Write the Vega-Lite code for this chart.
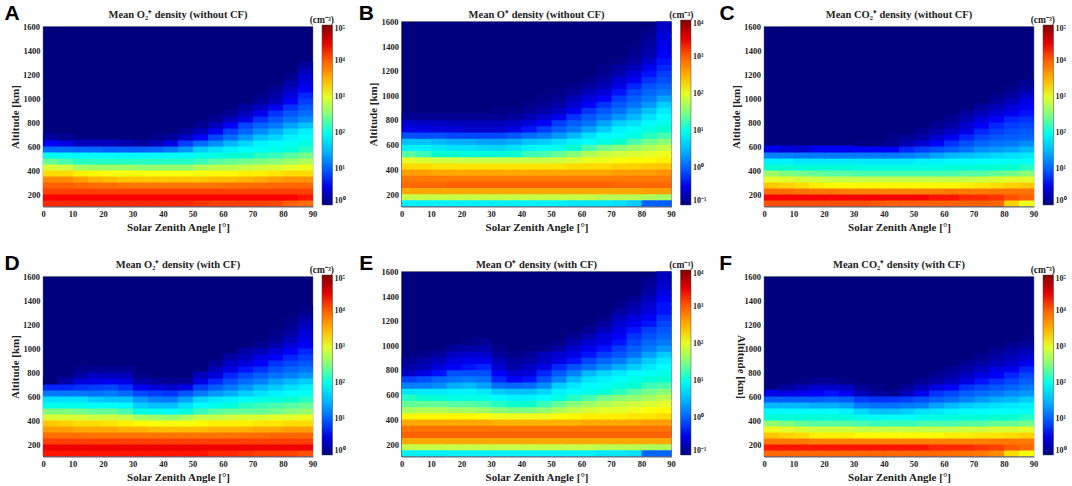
{"$schema":"https://vega.github.io/schema/vega-lite/v6.json","background":"white","padding":{"left":4,"top":2.5,"right":0,"bottom":0},
"config":{"font":"Liberation Serif","view":{"stroke":null},"range":{"heatmap":["#00007f","#0000ff","#007fff","#00ffff","#7fff7f","#ffff00","#ff7f00","#ff0000","#7f0000"]},
"axis":{"grid":false,"labelFont":"Liberation Serif","titleFont":"Liberation Serif","labelFontWeight":"bold","titleFontWeight":"bold","labelFontSize":8.5,"titleFontSize":11,"labelColor":"#222","titleColor":"#222","tickSize":-2,"tickColor":"#111","domainColor":"#666","labelFlush":false,"labelBound":false},
"axisX":{"labelPadding":5,"titlePadding":3},"axisY":{"labelPadding":5,"titlePadding":3},
"title":{"font":"Liberation Serif","fontWeight":"bold","fontSize":10.5,"color":"#222","anchor":"middle"},
"legend":{"labelFont":"Liberation Serif","titleFont":"Liberation Serif","labelFontWeight":"bold","titleFontWeight":"bold","labelFontSize":8,"titleFontSize":9.5,"labelColor":"#222","titleColor":"#222","gradientThickness":10.5,"gradientStrokeColor":"#444","gradientStrokeWidth":0.5,"labelOffset":2,"titleAnchor":"middle","titleAlign":"right","titlePadding":1,"labelOverlap":false}},
"datasets":{
"xl":[{"x":10,"y":100,"l":"10"},{"x":30,"y":100,"l":"30"},{"x":50,"y":100,"l":"50"},{"x":70,"y":100,"l":"70"},{"x":90,"y":100,"l":"90"}],
"yl":[{"x":0,"y":400,"l":"400"},{"x":0,"y":800,"l":"800"},{"x":0,"y":1200,"l":"1200"},{"x":0,"y":1600,"l":"1600"}],
"A":[
{"y":100,"x":[0,5,10,15,20,25,30,35,40,45,50,55,60,65,70,75,80,85],"v":[4.3,4.3,4.3,4.3,4.3,4.3,4.3,4.3,4.3,4.3,4.25,4.2,4.2,4.2,4.2,4.15,4,3.9]},
{"y":150,"x":[0,5,10,15,20,25,30,35,40,45,50,55,60,65,70,75,80,85],"v":[4.4,4.4,4.4,4.4,4.4,4.4,4.4,4.4,4.4,4.4,4.4,4.4,4.4,4.4,4.4,4.4,4.4,4.35]},
{"y":200,"x":[0,5,10,15,20,25,30,35,40,45,50,55,60,65,70,75,80,85],"v":[4.2,4.2,4.2,4.2,4.2,4.2,4.2,4.2,4.2,4.2,4.2,4.2,4.2,4.2,4.2,4.2,4.2,4.2]},
{"y":250,"x":[0,5,10,15,20,25,30,35,40,45,50,55,60,65,70,75,80,85],"v":[4,4,3.95,3.9,3.9,3.85,3.85,3.85,3.85,3.85,3.85,3.85,3.9,3.9,3.9,3.95,3.95,3.95]},
{"y":300,"x":[0,5,10,15,20,25,30,35,40,45,50,55,60,65,70,75,80,85],"v":[3.7,3.7,3.6,3.5,3.45,3.4,3.4,3.4,3.4,3.4,3.4,3.45,3.45,3.5,3.55,3.6,3.65,3.65]},
{"y":350,"x":[0,5,10,15,20,25,30,35,40,45,50,55,60,65,70,75,80,85],"v":[3.3,3.3,3.2,3.15,3.1,3.1,3.1,3.1,3.1,3.1,3.1,3.15,3.15,3.2,3.2,3.25,3.3,3.3]},
{"y":400,"x":[0,5,10,15,20,25,30,35,40,45,50,55,60,65,70,75,80,85],"v":[2.95,2.9,2.7,2.65,2.65,2.65,2.6,2.6,2.6,2.6,2.75,2.8,2.8,2.85,2.9,2.95,3,3.05]},
{"y":450,"x":[0,5,10,15,20,25,30,35,40,45,50,55,60,65,70,75,80,85],"v":[2.4,2.3,2.2,2.2,2.2,2.2,2.2,2.2,2.2,2.2,2.25,2.35,2.4,2.45,2.5,2.55,2.65,2.75]},
{"y":500,"x":[0,5,10,15,20,25,30,35,40,45,50,55,60,65,70,75,80,85],"v":[1.95,1.9,1.85,1.85,1.85,1.85,1.85,1.85,1.85,1.9,2,2.05,2.1,2.15,2.2,2.25,2.35,2.45]},
{"y":550,"x":[0,5,10,15,20,25,30,35,40,45,50,55,60,65,70,75,80,85],"v":[1.1,1.1,1.05,1.05,1,1,1,1.05,1.2,1.35,1.6,1.7,1.8,1.9,1.95,2,2.1,2.2]},
{"y":600,"x":[0,5,10,15,20,25,30,35,40,45,50,55,60,65,70,75,80,85],"v":[0.6,0.5,0.3,0.3,0.3,0.25,0.15,0.3,0.5,0.8,1.1,1.3,1.5,1.65,1.8,1.85,1.95,2.05]},
{"y":650,"x":[0,5,35,40,45,50,55,60,65,70,75,80,85],"v":[0.15,0.1,0.05,0.15,0.35,0.6,0.85,1.1,1.35,1.55,1.65,1.8,1.9]},
{"y":700,"x":[45,50,55,60,65,70,75,80,85],"v":[0.1,0.3,0.55,0.8,1.05,1.3,1.45,1.65,1.8]},
{"y":750,"x":[50,55,60,65,70,75,80,85],"v":[0.1,0.3,0.6,0.85,1.05,1.2,1.4,1.55]},
{"y":800,"x":[55,60,65,70,75,80,85],"v":[0.1,0.3,0.5,0.75,0.95,1.15,1.3]},
{"y":850,"x":[60,65,70,75,80,85],"v":[0.1,0.3,0.55,0.75,0.95,1.1]},
{"y":900,"x":[65,70,75,80,85],"v":[0.15,0.35,0.55,0.75,0.95]},
{"y":950,"x":[70,75,80,85],"v":[0.15,0.3,0.6,0.8]},
{"y":1000,"x":[70,75,80,85],"v":[0.05,0.2,0.45,0.7]},
{"y":1050,"x":[75,80,85],"v":[0.1,0.35,0.6]},
{"y":1100,"x":[80,85],"v":[0.2,0.5]},
{"y":1150,"x":[80,85],"v":[0.1,0.4]},
{"y":1200,"x":[85],"v":[0.3]},
{"y":1250,"x":[85],"v":[0.15]}],
"B":[
{"y":100,"x":[0,5,10,15,20,25,30,35,40,45,50,55,60,65,70,75,80,85],"v":[0.8,0.8,0.8,0.8,0.8,0.8,0.8,0.8,0.8,0.8,0.8,0.75,0.75,0.75,0.7,0.6,0,0]},
{"y":150,"x":[0,5,10,15,20,25,30,35,40,45,50,55,60,65,70,75,80,85],"v":[1.85,1.85,1.85,1.85,1.85,1.85,1.85,1.85,1.85,1.85,1.85,1.85,1.85,1.8,1.8,1.8,1.75,1.7]},
{"y":200,"x":[0,5,10,15,20,25,30,35,40,45,50,55,60,65,70,75,80,85],"v":[2.55,2.55,2.55,2.55,2.55,2.55,2.55,2.55,2.55,2.55,2.55,2.55,2.55,2.55,2.55,2.55,2.6,2.6]},
{"y":250,"x":[0,5,10,15,20,25,30,35,40,45,50,55,60,65,70,75,80,85],"v":[2.95,2.95,2.95,3,3,3,3,3,3,3,3,3,3,3,2.95,2.95,2.95,2.95]},
{"y":300,"x":[0,5,10,15,20,25,30,35,40,45,50,55,60,65,70,75,80,85],"v":[2.8,2.8,2.8,2.8,2.8,2.8,2.8,2.8,2.8,2.8,2.8,2.8,2.8,2.8,2.8,2.8,2.8,2.8]},
{"y":350,"x":[0,5,10,15,20,25,30,35,40,45,50,55,60,65,70,75,80,85],"v":[2.6,2.6,2.55,2.55,2.55,2.55,2.55,2.55,2.55,2.55,2.55,2.55,2.55,2.55,2.6,2.6,2.6,2.65]},
{"y":400,"x":[0,5,10,15,20,25,30,35,40,45,50,55,60,65,70,75,80,85],"v":[2.3,2.3,2.25,2.25,2.25,2.25,2.25,2.25,2.25,2.25,2.25,2.3,2.3,2.3,2.35,2.35,2.4,2.4]},
{"y":450,"x":[0,5,10,15,20,25,30,35,40,45,50,55,60,65,70,75,80,85],"v":[2,1.95,1.9,1.9,1.85,1.85,1.85,1.85,1.85,1.85,1.9,1.95,2.05,2.05,2.1,2.15,2.15,2.2]},
{"y":500,"x":[0,5,10,15,20,25,30,35,40,45,50,55,60,65,70,75,80,85],"v":[1.35,1.25,1.15,1.15,1.1,1.1,1.1,1.15,1.25,1.3,1.4,1.55,1.75,1.85,1.9,1.95,2,2.05]},
{"y":550,"x":[0,5,10,15,20,25,30,35,40,45,50,55,60,65,70,75,80,85],"v":[0.8,0.8,0.75,0.7,0.7,0.65,0.65,0.7,0.8,0.9,1,1.15,1.3,1.45,1.55,1.65,1.75,1.85]},
{"y":600,"x":[0,5,10,15,20,25,30,35,40,45,50,55,60,65,70,75,80,85],"v":[0.55,0.55,0.5,0.45,0.45,0.4,0.4,0.45,0.55,0.6,0.7,0.8,0.9,1.05,1.15,1.3,1.45,1.55]},
{"y":650,"x":[0,5,10,15,20,25,30,35,40,45,50,55,60,65,70,75,80,85],"v":[-0.1,-0.1,-0.1,-0.15,-0.15,-0.15,-0.15,-0.05,0.1,0.2,0.35,0.5,0.7,0.85,0.95,1.05,1.2,1.3]},
{"y":700,"x":[0,5,10,15,20,25,30,35,40,45,50,55,60,65,70,75,80,85],"v":[-0.5,-0.5,-0.55,-0.55,-0.6,-0.6,-0.6,-0.5,-0.35,-0.2,0,0.2,0.4,0.6,0.8,0.9,1.05,1.15]},
{"y":750,"x":[0,5,10,15,20,25,30,35,40,45,50,55,60,65,70,75,80,85],"v":[-0.6,-0.65,-0.65,-0.7,-0.7,-0.7,-0.7,-0.65,-0.55,-0.4,-0.2,0,0.15,0.4,0.6,0.7,0.85,1]},
{"y":800,"x":[0,5,10,15,20,25,30,35,40,45,50,55,60,65,70,75,80,85],"v":[-0.9,-0.9,-0.9,-0.9,-0.9,-0.9,-0.9,-0.85,-0.75,-0.6,-0.45,-0.25,-0.05,0.15,0.35,0.5,0.7,0.9]},
{"y":850,"x":[30,35,40,45,50,55,60,65,70,75,80,85],"v":[-0.95,-0.95,-0.9,-0.8,-0.65,-0.45,-0.25,-0.05,0.15,0.35,0.55,0.75]},
{"y":900,"x":[40,45,50,55,60,65,70,75,80,85],"v":[-0.95,-0.9,-0.8,-0.6,-0.4,-0.25,-0.05,0.15,0.35,0.6]},
{"y":950,"x":[45,50,55,60,65,70,75,80,85],"v":[-0.95,-0.9,-0.7,-0.55,-0.4,-0.2,0,0.2,0.4]},
{"y":1000,"x":[50,55,60,65,70,75,80,85],"v":[-0.95,-0.85,-0.7,-0.55,-0.35,-0.15,0.05,0.2]},
{"y":1050,"x":[55,60,65,70,75,80,85],"v":[-0.95,-0.85,-0.7,-0.5,-0.3,-0.1,0.05]},
{"y":1100,"x":[60,65,70,75,80,85],"v":[-0.95,-0.8,-0.6,-0.45,-0.25,-0.1]},
{"y":1150,"x":[65,70,75,80,85],"v":[-0.9,-0.75,-0.55,-0.35,-0.2]},
{"y":1200,"x":[65,70,75,80,85],"v":[-0.95,-0.85,-0.7,-0.45,-0.3]},
{"y":1250,"x":[70,75,80,85],"v":[-0.95,-0.85,-0.6,-0.35]},
{"y":1300,"x":[75,80,85],"v":[-0.9,-0.75,-0.4]},
{"y":1350,"x":[75,80,85],"v":[-0.95,-0.8,-0.45]},
{"y":1400,"x":[80,85],"v":[-0.85,-0.5]},
{"y":1450,"x":[80,85],"v":[-0.9,-0.55]},
{"y":1500,"x":[80,85],"v":[-0.95,-0.6]},
{"y":1550,"x":[85],"v":[-0.65]}],
"C":[
{"y":100,"x":[0,5,10,15,20,25,30,35,40,45,50,55,60,65,70,75,80,85],"v":[4.1,4.1,4.1,4.1,4.1,4.1,4.1,4.05,4,4,4,4,4,4,4,3.95,3.35,3.05]},
{"y":150,"x":[0,5,10,15,20,25,30,35,40,45,50,55,60,65,70,75,80,85],"v":[4.4,4.4,4.4,4.4,4.4,4.4,4.4,4.4,4.4,4.4,4.4,4.35,4.35,4.3,4.3,4.25,4.1,4]},
{"y":200,"x":[0,5,10,15,20,25,30,35,40,45,50,55,60,65,70,75,80,85],"v":[3.9,3.9,3.85,3.8,3.8,3.75,3.75,3.75,3.75,3.75,3.75,3.75,3.8,3.8,3.8,3.85,3.85,3.85]},
{"y":250,"x":[0,5,10,15,20,25,30,35,40,45,50,55,60,65,70,75,80,85],"v":[3.4,3.35,3.3,3.2,3.15,3.15,3.15,3.15,3.15,3.15,3.15,3.15,3.15,3.2,3.25,3.3,3.35,3.4]},
{"y":300,"x":[0,5,10,15,20,25,30,35,40,45,50,55,60,65,70,75,80,85],"v":[3,3,2.95,2.9,2.85,2.85,2.85,2.85,2.85,2.85,2.85,2.85,2.85,2.85,2.9,2.95,3,3]},
{"y":350,"x":[0,5,10,15,20,25,30,35,40,45,50,55,60,65,70,75,80,85],"v":[2.65,2.5,2.45,2.4,2.35,2.35,2.3,2.3,2.3,2.3,2.3,2.3,2.3,2.35,2.35,2.4,2.45,2.55]},
{"y":400,"x":[0,5,10,15,20,25,30,35,40,45,50,55,60,65,70,75,80,85],"v":[2.15,2.15,2.1,2.1,2.1,2.1,2.05,2.05,2.05,2.05,2.05,2.05,2.1,2.1,2.1,2.15,2.15,2.2]},
{"y":450,"x":[0,5,10,15,20,25,30,35,40,45,50,55,60,65,70,75,80,85],"v":[1.8,1.8,1.75,1.75,1.75,1.75,1.75,1.75,1.75,1.75,1.8,1.8,1.85,1.85,1.9,1.9,1.95,1.95]},
{"y":500,"x":[0,5,10,15,20,25,30,35,40,45,50,55,60,65,70,75,80,85],"v":[1.25,1.25,1.2,1.2,1.2,1.2,1.2,1.2,1.2,1.25,1.3,1.4,1.5,1.55,1.6,1.65,1.7,1.75]},
{"y":550,"x":[0,5,10,15,20,25,30,35,40,45,50,55,60,65,70,75,80,85],"v":[0.5,0.45,0.4,0.55,0.55,0.55,0.6,0.6,0.6,0.7,0.8,0.9,1,1.15,1.3,1.35,1.4,1.5]},
{"y":600,"x":[30,35,40,45,50,55,60,65,70,75,80,85],"v":[0.05,0.05,0.1,0.25,0.4,0.6,0.75,0.9,1.05,1.15,1.2,1.3]},
{"y":650,"x":[40,45,50,55,60,65,70,75,80,85],"v":[0.05,0.1,0.2,0.4,0.55,0.7,0.85,0.95,1,1.05]},
{"y":700,"x":[50,55,60,65,70,75,80,85],"v":[0.1,0.2,0.35,0.5,0.7,0.8,0.9,0.95]},
{"y":750,"x":[55,60,65,70,75,80,85],"v":[0.1,0.2,0.4,0.6,0.7,0.8,0.85]},
{"y":800,"x":[60,65,70,75,80,85],"v":[0.1,0.25,0.45,0.6,0.7,0.75]},
{"y":850,"x":[65,70,75,80,85],"v":[0.15,0.3,0.45,0.55,0.65]},
{"y":900,"x":[70,75,80,85],"v":[0.15,0.3,0.45,0.6]},
{"y":950,"x":[75,80,85],"v":[0.15,0.3,0.5]},
{"y":1000,"x":[75,80,85],"v":[0.05,0.15,0.35]},
{"y":1050,"x":[80,85],"v":[0.05,0.2]},
{"y":1100,"x":[85],"v":[0.1]}],
"D":[
{"y":100,"x":[0,5,10,15,20,25,30,35,40,45,50,55,60,65,70,75,80,85],"v":[4.35,4.35,4.35,4.35,4.35,4.35,4.35,4.35,4.35,4.35,4.35,4.3,4.3,4.25,4.2,4.2,4.2,4.1]},
{"y":150,"x":[0,5,10,15,20,25,30,35,40,45,50,55,60,65,70,75,80,85],"v":[4.45,4.45,4.45,4.45,4.45,4.45,4.45,4.45,4.45,4.45,4.45,4.45,4.45,4.45,4.45,4.45,4.45,4.45]},
{"y":200,"x":[0,5,10,15,20,25,30,35,40,45,50,55,60,65,70,75,80,85],"v":[4.2,4.2,4.2,4.2,4.2,4.2,4.2,4.2,4.2,4.2,4.2,4.2,4.2,4.2,4.2,4.2,4.2,4.2]},
{"y":250,"x":[0,5,10,15,20,25,30,35,40,45,50,55,60,65,70,75,80,85],"v":[3.9,3.9,3.9,3.85,3.85,3.85,3.85,3.85,3.85,3.85,3.85,3.85,3.85,3.9,3.9,3.95,3.95,3.95]},
{"y":300,"x":[0,5,10,15,20,25,30,35,40,45,50,55,60,65,70,75,80,85],"v":[3.6,3.6,3.55,3.55,3.55,3.5,3.5,3.45,3.45,3.45,3.45,3.5,3.5,3.5,3.55,3.55,3.6,3.6]},
{"y":350,"x":[0,5,10,15,20,25,30,35,40,45,50,55,60,65,70,75,80,85],"v":[3.4,3.35,3.3,3.3,3.25,3.2,3.15,3.1,3.1,3.1,3.15,3.2,3.2,3.2,3.25,3.25,3.3,3.3]},
{"y":400,"x":[0,5,10,15,20,25,30,35,40,45,50,55,60,65,70,75,80,85],"v":[2.95,2.95,2.95,2.9,2.9,2.85,2.7,2.65,2.6,2.7,2.85,2.85,2.9,2.95,2.95,3,3,3.05]},
{"y":450,"x":[0,5,10,15,20,25,30,35,40,45,50,55,60,65,70,75,80,85],"v":[2.5,2.5,2.45,2.4,2.4,2.3,2.05,2,1.95,2.05,2.25,2.35,2.4,2.4,2.4,2.45,2.55,2.6]},
{"y":500,"x":[0,5,10,15,20,25,30,35,40,45,50,55,60,65,70,75,80,85],"v":[2,2,2,1.95,1.95,1.85,1.6,1.55,1.55,1.7,1.9,2,2.1,2.2,2.25,2.3,2.35,2.4]},
{"y":550,"x":[0,5,10,15,20,25,30,35,40,45,50,55,60,65,70,75,80,85],"v":[1.7,1.7,1.7,1.6,1.55,1.55,1.35,1.25,1.2,1.4,1.65,1.75,1.8,1.9,2,2.05,2.15,2.2]},
{"y":600,"x":[0,5,10,15,20,25,30,35,40,45,50,55,60,65,70,75,80,85],"v":[1.2,1.2,1.2,1.15,1.2,1.1,0.85,0.8,0.75,0.95,1.2,1.35,1.45,1.6,1.7,1.8,1.9,1.95]},
{"y":650,"x":[0,5,10,15,20,25,30,35,40,45,50,55,60,65,70,75,80,85],"v":[0.7,0.7,0.75,0.8,0.85,0.75,0.55,0.45,0.4,0.5,0.8,1,1.2,1.35,1.5,1.6,1.7,1.8]},
{"y":700,"x":[0,5,10,15,20,25,30,35,40,45,50,55,60,65,70,75,80,85],"v":[0,0.2,0.45,0.5,0.55,0.5,0.2,0.15,0.1,0.1,0.5,0.7,0.9,1.1,1.25,1.4,1.5,1.6]},
{"y":750,"x":[10,15,20,25,30,50,55,60,65,70,75,80,85],"v":[0.2,0.35,0.3,0.3,0.05,0.3,0.45,0.7,0.85,1,1.15,1.25,1.35]},
{"y":800,"x":[10,15,20,25,55,60,65,70,75,80,85],"v":[0.05,0.1,0.1,0.1,0.3,0.5,0.65,0.75,0.9,1.05,1.15]},
{"y":850,"x":[55,60,65,70,75,80,85],"v":[0.1,0.35,0.45,0.6,0.75,0.85,0.95]},
{"y":900,"x":[60,65,70,75,80,85],"v":[0.2,0.3,0.5,0.6,0.7,0.8]},
{"y":950,"x":[65,70,75,80,85],"v":[0.2,0.3,0.45,0.6,0.7]},
{"y":1000,"x":[70,75,80,85],"v":[0.1,0.25,0.45,0.6]},
{"y":1050,"x":[75,80,85],"v":[0.1,0.3,0.5]},
{"y":1100,"x":[75,80,85],"v":[0.05,0.2,0.45]},
{"y":1150,"x":[80,85],"v":[0.1,0.35]},
{"y":1200,"x":[80,85],"v":[0.05,0.25]},
{"y":1250,"x":[85],"v":[0.15]},
{"y":1300,"x":[85],"v":[0.05]}],
"E":[
{"y":100,"x":[0,5,10,15,20,25,30,35,40,45,50,55,60,65,70,75,80,85],"v":[0.8,0.8,0.8,0.8,0.8,0.8,0.8,0.8,0.8,0.8,0.8,0.8,0.8,0.75,0.75,0.7,0.05,0.05]},
{"y":150,"x":[0,5,10,15,20,25,30,35,40,45,50,55,60,65,70,75,80,85],"v":[1.85,1.85,1.85,1.85,1.85,1.85,1.85,1.85,1.85,1.85,1.85,1.85,1.85,1.8,1.8,1.8,1.75,1.75]},
{"y":200,"x":[0,5,10,15,20,25,30,35,40,45,50,55,60,65,70,75,80,85],"v":[2.55,2.55,2.55,2.55,2.55,2.55,2.55,2.55,2.55,2.55,2.55,2.55,2.55,2.55,2.55,2.55,2.55,2.55]},
{"y":250,"x":[0,5,10,15,20,25,30,35,40,45,50,55,60,65,70,75,80,85],"v":[3,3,3,3,3,3,3,3,3,3,3,3,3,3,3,3,3,3]},
{"y":300,"x":[0,5,10,15,20,25,30,35,40,45,50,55,60,65,70,75,80,85],"v":[2.85,2.85,2.85,2.85,2.85,2.85,2.85,2.85,2.85,2.85,2.85,2.85,2.85,2.85,2.85,2.85,2.85,2.85]},
{"y":350,"x":[0,5,10,15,20,25,30,35,40,45,50,55,60,65,70,75,80,85],"v":[2.55,2.55,2.55,2.55,2.55,2.55,2.5,2.5,2.5,2.5,2.5,2.5,2.55,2.55,2.55,2.55,2.6,2.6]},
{"y":400,"x":[0,5,10,15,20,25,30,35,40,45,50,55,60,65,70,75,80,85],"v":[2.15,2.15,2.15,2.15,2.15,2.1,2.05,2.05,2.05,2.05,2.1,2.15,2.2,2.2,2.2,2.25,2.25,2.3]},
{"y":450,"x":[0,5,10,15,20,25,30,35,40,45,50,55,60,65,70,75,80,85],"v":[1.7,1.75,1.75,1.7,1.7,1.65,1.55,1.5,1.5,1.6,1.75,1.85,1.95,2,2,2.05,2.1,2.15]},
{"y":500,"x":[0,5,10,15,20,25,30,35,40,45,50,55,60,65,70,75,80,85],"v":[1.4,1.4,1.4,1.35,1.35,1.3,1.2,1.15,1.15,1.25,1.4,1.55,1.65,1.75,1.85,1.9,1.95,2]},
{"y":550,"x":[0,5,10,15,20,25,30,35,40,45,50,55,60,65,70,75,80,85],"v":[1.2,1.15,1.1,1.05,1.05,1,0.85,0.8,0.8,0.9,1.05,1.2,1.3,1.45,1.55,1.6,1.7,1.8]},
{"y":600,"x":[0,5,10,15,20,25,30,35,40,45,50,55,60,65,70,75,80,85],"v":[0.75,0.75,0.75,0.8,0.8,0.75,0.6,0.55,0.55,0.65,0.8,0.9,1,1.1,1.2,1.35,1.45,1.55]},
{"y":650,"x":[0,5,10,15,20,25,30,35,40,45,50,55,60,65,70,75,80,85],"v":[0.25,0.25,0.3,0.45,0.5,0.4,0.1,0.05,0.1,0.3,0.6,0.75,0.85,0.95,1.05,1.15,1.25,1.3]},
{"y":700,"x":[0,5,10,15,20,25,30,35,40,45,50,55,60,65,70,75,80,85],"v":[-0.2,-0.1,0.05,0.15,0.2,0.15,-0.3,-0.4,-0.35,-0.1,0.25,0.5,0.7,0.8,0.9,1,1.1,1.15]},
{"y":750,"x":[0,5,10,15,20,25,30,35,40,45,50,55,60,65,70,75,80,85],"v":[-0.65,-0.5,-0.35,-0.1,-0.1,-0.1,-0.4,-0.6,-0.55,-0.3,-0.05,0.25,0.5,0.65,0.75,0.85,0.95,1]},
{"y":800,"x":[0,5,10,15,20,25,30,35,40,45,50,55,60,65,70,75,80,85],"v":[-0.8,-0.7,-0.55,-0.4,-0.35,-0.3,-0.6,-0.8,-0.65,-0.5,-0.3,-0.1,0.1,0.3,0.45,0.6,0.75,0.9]},
{"y":850,"x":[0,5,10,15,20,25,30,35,40,45,50,55,60,65,70,75,80,85],"v":[-0.9,-0.8,-0.7,-0.55,-0.45,-0.45,-0.7,-0.85,-0.8,-0.65,-0.5,-0.35,-0.15,0.05,0.2,0.4,0.6,0.75]},
{"y":900,"x":[5,10,15,20,25,30,35,40,45,50,55,60,65,70,75,80,85],"v":[-0.95,-0.85,-0.65,-0.6,-0.6,-0.85,-0.95,-0.9,-0.7,-0.6,-0.5,-0.35,-0.2,-0.05,0.15,0.4,0.6]},
{"y":950,"x":[15,20,25,30,45,50,55,60,65,70,75,80,85],"v":[-0.85,-0.8,-0.75,-0.95,-0.95,-0.8,-0.6,-0.45,-0.35,-0.2,0,0.2,0.35]},
{"y":1000,"x":[20,25,50,55,60,65,70,75,80,85],"v":[-0.95,-0.9,-0.95,-0.75,-0.6,-0.5,-0.35,-0.15,0.05,0.2]},
{"y":1050,"x":[55,60,65,70,75,80,85],"v":[-0.9,-0.75,-0.55,-0.4,-0.25,-0.1,0.05]},
{"y":1100,"x":[60,65,70,75,80,85],"v":[-0.9,-0.7,-0.5,-0.35,-0.2,-0.05]},
{"y":1150,"x":[65,70,75,80,85],"v":[-0.85,-0.6,-0.45,-0.35,-0.15]},
{"y":1200,"x":[65,70,75,80,85],"v":[-0.95,-0.7,-0.55,-0.4,-0.25]},
{"y":1250,"x":[70,75,80,85],"v":[-0.85,-0.7,-0.55,-0.35]},
{"y":1300,"x":[70,75,80,85],"v":[-0.95,-0.8,-0.6,-0.35]},
{"y":1350,"x":[75,80,85],"v":[-0.9,-0.7,-0.4]},
{"y":1400,"x":[80,85],"v":[-0.8,-0.5]},
{"y":1450,"x":[80,85],"v":[-0.85,-0.6]},
{"y":1500,"x":[80,85],"v":[-0.9,-0.65]},
{"y":1550,"x":[85],"v":[-0.7]}],
"F":[
{"y":100,"x":[0,5,10,15,20,25,30,35,40,45,50,55,60,65,70,75,80,85],"v":[3.95,3.95,3.95,3.95,3.95,3.95,3.95,3.95,3.95,3.95,3.95,3.95,3.9,3.85,3.8,3.7,3.3,3.1]},
{"y":150,"x":[0,5,10,15,20,25,30,35,40,45,50,55,60,65,70,75,80,85],"v":[4.35,4.35,4.35,4.35,4.35,4.35,4.35,4.35,4.35,4.35,4.35,4.3,4.3,4.3,4.25,4.2,4.05,3.95]},
{"y":200,"x":[0,5,10,15,20,25,30,35,40,45,50,55,60,65,70,75,80,85],"v":[3.8,3.8,3.8,3.75,3.75,3.75,3.75,3.75,3.75,3.75,3.75,3.75,3.75,3.75,3.75,3.8,3.8,3.8]},
{"y":250,"x":[0,5,10,15,20,25,30,35,40,45,50,55,60,65,70,75,80,85],"v":[3.4,3.35,3.3,3.2,3.2,3.2,3.15,3.15,3.15,3.15,3.15,3.15,3.2,3.2,3.25,3.25,3.3,3.35]},
{"y":300,"x":[0,5,10,15,20,25,30,35,40,45,50,55,60,65,70,75,80,85],"v":[3.05,3,2.95,2.9,2.9,2.9,2.85,2.85,2.85,2.85,2.85,2.85,2.85,2.9,2.9,2.95,2.95,3]},
{"y":350,"x":[0,5,10,15,20,25,30,35,40,45,50,55,60,65,70,75,80,85],"v":[2.6,2.5,2.4,2.35,2.35,2.35,2.3,2.25,2.25,2.25,2.3,2.3,2.3,2.35,2.35,2.4,2.4,2.45]},
{"y":400,"x":[0,5,10,15,20,25,30,35,40,45,50,55,60,65,70,75,80,85],"v":[2.1,2.1,2.1,2.1,2.1,2.1,2,1.95,1.95,1.95,2,2.05,2.05,2.1,2.1,2.15,2.15,2.2]},
{"y":450,"x":[0,5,10,15,20,25,30,35,40,45,50,55,60,65,70,75,80,85],"v":[1.85,1.85,1.85,1.85,1.85,1.8,1.65,1.55,1.55,1.6,1.7,1.75,1.8,1.85,1.85,1.9,1.9,1.95]},
{"y":500,"x":[0,5,10,15,20,25,30,35,40,45,50,55,60,65,70,75,80,85],"v":[1.5,1.5,1.5,1.45,1.45,1.4,1.2,1.15,1.15,1.2,1.25,1.4,1.5,1.6,1.65,1.7,1.75,1.8]},
{"y":550,"x":[0,5,10,15,20,25,30,35,40,45,50,55,60,65,70,75,80,85],"v":[1,1,1,1,1.05,1,0.8,0.75,0.75,0.8,0.9,1,1.1,1.25,1.35,1.45,1.5,1.6]},
{"y":600,"x":[0,5,10,15,20,25,30,35,40,45,50,55,60,65,70,75,80,85],"v":[0.5,0.5,0.55,0.6,0.65,0.55,0.3,0.15,0.1,0.3,0.55,0.75,0.85,1,1.1,1.2,1.3,1.35]},
{"y":650,"x":[5,10,15,20,25,30,35,45,50,55,60,65,70,75,80,85],"v":[0.15,0.3,0.4,0.4,0.35,0.1,0.05,0.1,0.3,0.5,0.6,0.75,0.85,0.95,1.05,1.2]},
{"y":700,"x":[10,15,20,25,50,55,60,65,70,75,80,85],"v":[0.05,0.1,0.1,0.05,0.1,0.2,0.35,0.5,0.65,0.75,0.85,1]},
{"y":750,"x":[55,60,65,70,75,80,85],"v":[0.1,0.2,0.35,0.5,0.6,0.7,0.85]},
{"y":800,"x":[60,65,70,75,80,85],"v":[0.1,0.2,0.35,0.5,0.55,0.7]},
{"y":850,"x":[65,70,75,80,85],"v":[0.1,0.2,0.3,0.4,0.55]},
{"y":900,"x":[70,75,80,85],"v":[0.1,0.2,0.3,0.4]},
{"y":950,"x":[75,80,85],"v":[0.1,0.2,0.3]},
{"y":1000,"x":[80,85],"v":[0.1,0.15]},
{"y":1050,"x":[85],"v":[0.05]}]},
"spacing":20,
"resolve":{"scale":{"fill":"independent"}},
"vconcat":[
{"spacing":12.5,"resolve":{"scale":{"fill":"independent"}},"hconcat":[
{"width":270,"height":185,"title":{"text":"Mean O₂⁺ density (without CF)","offset":-18},"layer":[
{"data":{"values":[{"x":0,"x2":90,"y":100,"y2":1600}]},"mark":{"type":"rect","fill":"#00007f","stroke":"#666","strokeWidth":0.5},"encoding":{"x":{"field":"x","type":"quantitative"},"x2":{"field":"x2"},"y":{"field":"y","type":"quantitative","scale":{"domain":[100,1600],"nice":false}},"y2":{"field":"y2"}}},
{"data":{"name":"A"},"transform":[{"flatten":["x","v"]},{"calculate":"datum.x+5.5","as":"x2"},{"calculate":"datum.y+58","as":"y2"}],"mark":{"type":"rect","clip":true},"encoding":{"x":{"field":"x","type":"quantitative","scale":{"domain":[0,90],"nice":false},"axis":{"title":"Solar Zenith Angle [°]","labelOverlap":false,"values":[0,10,20,30,40,50,60,70,80,90]}},"x2":{"field":"x2"},"y":{"field":"y","type":"quantitative","scale":{"domain":[100,1600],"nice":false,"range":[185,5]},"axis":{"title":"Altitude [km]","labelOverlap":false,"format":"d","values":[200,400,600,800,1000,1200,1400,1600]}},"y2":{"field":"y2"},"fill":{"field":"v","type":"quantitative","scale":{"domain":[0,5],"clamp":true},"legend":{"title":"(cm⁻³)","orient":"none","legendX":267,"legendY":-7,"gradientLength":180,"values":[0,1,2,3,4,5],"labelExpr":"'10'+{'-1':'⁻¹','0':'⁰','1':'¹','2':'²','3':'³','4':'⁴','5':'⁵'}[datum.value]"}}}},
{"data":{"name":"xl"},"mark":{"type":"text","font":"Liberation Serif","fontWeight":"bold","fontSize":8.5,"fill":"#222","baseline":"top","dy":3},"encoding":{"x":{"field":"x","type":"quantitative"},"y":{"field":"y","type":"quantitative","scale":{"domain":[100,1600],"nice":false}},"text":{"field":"l"}}},
{"data":{"name":"yl"},"mark":{"type":"text","font":"Liberation Serif","fontWeight":"bold","fontSize":8.5,"fill":"#222","align":"right","baseline":"middle","dx":-3},"encoding":{"x":{"field":"x","type":"quantitative"},"y":{"field":"y","type":"quantitative","scale":{"domain":[100,1600],"nice":false}},"text":{"field":"l"}}},
{"data":{"values":[{"x":0,"y":1600,"t":"A"}]},"mark":{"type":"text","font":"Liberation Sans","fontWeight":"bold","fontSize":21,"baseline":"middle","dx":-31,"dy":-13},"encoding":{"x":{"field":"x","type":"quantitative"},"y":{"field":"y","type":"quantitative","scale":{"domain":[100,1600],"nice":false}},"text":{"field":"t"}}}]},
{"width":270,"height":185,"title":{"text":"Mean O⁺ density (without CF)","offset":-18},"layer":[
{"data":{"values":[{"x":0,"x2":90,"y":100,"y2":1600}]},"mark":{"type":"rect","fill":"#00007f","stroke":"#666","strokeWidth":0.5},"encoding":{"x":{"field":"x","type":"quantitative"},"x2":{"field":"x2"},"y":{"field":"y","type":"quantitative","scale":{"domain":[100,1600],"nice":false}},"y2":{"field":"y2"}}},
{"data":{"name":"B"},"transform":[{"flatten":["x","v"]},{"calculate":"datum.x+5.5","as":"x2"},{"calculate":"datum.y+58","as":"y2"}],"mark":{"type":"rect","clip":true},"encoding":{"x":{"field":"x","type":"quantitative","scale":{"domain":[0,90],"nice":false},"axis":{"title":"Solar Zenith Angle [°]","labelOverlap":false,"values":[0,10,20,30,40,50,60,70,80,90]}},"x2":{"field":"x2"},"y":{"field":"y","type":"quantitative","scale":{"domain":[100,1600],"nice":false},"axis":{"title":"Altitude [km]","labelOverlap":false,"format":"d","values":[200,400,600,800,1000,1200,1400,1600]}},"y2":{"field":"y2"},"fill":{"field":"v","type":"quantitative","scale":{"domain":[-1,4],"clamp":true},"legend":{"title":"(cm⁻³)","orient":"none","legendX":268,"legendY":-12,"gradientLength":185,"values":[-1,0,1,2,3,4],"labelExpr":"'10'+{'-1':'⁻¹','0':'⁰','1':'¹','2':'²','3':'³','4':'⁴','5':'⁵'}[datum.value]"}}}},
{"data":{"name":"xl"},"mark":{"type":"text","font":"Liberation Serif","fontWeight":"bold","fontSize":8.5,"fill":"#222","baseline":"top","dy":3},"encoding":{"x":{"field":"x","type":"quantitative"},"y":{"field":"y","type":"quantitative","scale":{"domain":[100,1600],"nice":false}},"text":{"field":"l"}}},
{"data":{"name":"yl"},"mark":{"type":"text","font":"Liberation Serif","fontWeight":"bold","fontSize":8.5,"fill":"#222","align":"right","baseline":"middle","dx":-3},"encoding":{"x":{"field":"x","type":"quantitative"},"y":{"field":"y","type":"quantitative","scale":{"domain":[100,1600],"nice":false}},"text":{"field":"l"}}},
{"data":{"values":[{"x":0,"y":1600,"t":"B"}]},"mark":{"type":"text","font":"Liberation Sans","fontWeight":"bold","fontSize":21,"baseline":"middle","dx":-35.2,"dy":-8},"encoding":{"x":{"field":"x","type":"quantitative"},"y":{"field":"y","type":"quantitative","scale":{"domain":[100,1600],"nice":false}},"text":{"field":"t"}}}]},
{"width":270,"height":185,"title":{"text":"Mean CO₂⁺ density (without CF)","offset":-18},"layer":[
{"data":{"values":[{"x":0,"x2":90,"y":100,"y2":1600}]},"mark":{"type":"rect","fill":"#00007f","stroke":"#666","strokeWidth":0.5},"encoding":{"x":{"field":"x","type":"quantitative"},"x2":{"field":"x2"},"y":{"field":"y","type":"quantitative","scale":{"domain":[100,1600],"nice":false}},"y2":{"field":"y2"}}},
{"data":{"name":"C"},"transform":[{"flatten":["x","v"]},{"calculate":"datum.x+5.5","as":"x2"},{"calculate":"datum.y+58","as":"y2"}],"mark":{"type":"rect","clip":true},"encoding":{"x":{"field":"x","type":"quantitative","scale":{"domain":[0,90],"nice":false},"axis":{"title":"Solar Zenith Angle [°]","labelOverlap":false,"values":[0,10,20,30,40,50,60,70,80,90]}},"x2":{"field":"x2"},"y":{"field":"y","type":"quantitative","scale":{"domain":[100,1600],"nice":false,"range":[185,5]},"axis":{"title":"Altitude [km]","labelOverlap":false,"format":"d","values":[200,400,600,800,1000,1200,1400,1600]}},"y2":{"field":"y2"},"fill":{"field":"v","type":"quantitative","scale":{"domain":[0,5],"clamp":true},"legend":{"title":"(cm⁻³)","orient":"none","legendX":267,"legendY":-7,"gradientLength":180,"values":[0,1,2,3,4,5],"labelExpr":"'10'+{'-1':'⁻¹','0':'⁰','1':'¹','2':'²','3':'³','4':'⁴','5':'⁵'}[datum.value]"}}}},
{"data":{"name":"xl"},"mark":{"type":"text","font":"Liberation Serif","fontWeight":"bold","fontSize":8.5,"fill":"#222","baseline":"top","dy":3},"encoding":{"x":{"field":"x","type":"quantitative"},"y":{"field":"y","type":"quantitative","scale":{"domain":[100,1600],"nice":false}},"text":{"field":"l"}}},
{"data":{"name":"yl"},"mark":{"type":"text","font":"Liberation Serif","fontWeight":"bold","fontSize":8.5,"fill":"#222","align":"right","baseline":"middle","dx":-3},"encoding":{"x":{"field":"x","type":"quantitative"},"y":{"field":"y","type":"quantitative","scale":{"domain":[100,1600],"nice":false}},"text":{"field":"l"}}},
{"data":{"values":[{"x":0,"y":1600,"t":"C"}]},"mark":{"type":"text","font":"Liberation Sans","fontWeight":"bold","fontSize":21,"baseline":"middle","dx":-36.8,"dy":-13},"encoding":{"x":{"field":"x","type":"quantitative"},"y":{"field":"y","type":"quantitative","scale":{"domain":[100,1600],"nice":false}},"text":{"field":"t"}}}]}]},
{"spacing":12.5,"resolve":{"scale":{"fill":"independent"}},"hconcat":[
{"width":270,"height":185,"title":{"text":"Mean O₂⁺ density (with CF)","offset":-18},"layer":[
{"data":{"values":[{"x":0,"x2":90,"y":100,"y2":1600}]},"mark":{"type":"rect","fill":"#00007f","stroke":"#666","strokeWidth":0.5},"encoding":{"x":{"field":"x","type":"quantitative"},"x2":{"field":"x2"},"y":{"field":"y","type":"quantitative","scale":{"domain":[100,1600],"nice":false}},"y2":{"field":"y2"}}},
{"data":{"name":"D"},"transform":[{"flatten":["x","v"]},{"calculate":"datum.x+5.5","as":"x2"},{"calculate":"datum.y+58","as":"y2"}],"mark":{"type":"rect","clip":true},"encoding":{"x":{"field":"x","type":"quantitative","scale":{"domain":[0,90],"nice":false},"axis":{"title":"Solar Zenith Angle [°]","labelOverlap":false,"values":[0,10,20,30,40,50,60,70,80,90]}},"x2":{"field":"x2"},"y":{"field":"y","type":"quantitative","scale":{"domain":[100,1600],"nice":false,"range":[185,5]},"axis":{"title":"Altitude [km]","labelOverlap":false,"format":"d","values":[200,400,600,800,1000,1200,1400,1600]}},"y2":{"field":"y2"},"fill":{"field":"v","type":"quantitative","scale":{"domain":[0,5],"clamp":true},"legend":{"title":"(cm⁻³)","orient":"none","legendX":267,"legendY":-7,"gradientLength":180,"values":[0,1,2,3,4,5],"labelExpr":"'10'+{'-1':'⁻¹','0':'⁰','1':'¹','2':'²','3':'³','4':'⁴','5':'⁵'}[datum.value]"}}}},
{"data":{"name":"xl"},"mark":{"type":"text","font":"Liberation Serif","fontWeight":"bold","fontSize":8.5,"fill":"#222","baseline":"top","dy":3},"encoding":{"x":{"field":"x","type":"quantitative"},"y":{"field":"y","type":"quantitative","scale":{"domain":[100,1600],"nice":false}},"text":{"field":"l"}}},
{"data":{"name":"yl"},"mark":{"type":"text","font":"Liberation Serif","fontWeight":"bold","fontSize":8.5,"fill":"#222","align":"right","baseline":"middle","dx":-3},"encoding":{"x":{"field":"x","type":"quantitative"},"y":{"field":"y","type":"quantitative","scale":{"domain":[100,1600],"nice":false}},"text":{"field":"l"}}},
{"data":{"values":[{"x":0,"y":1600,"t":"D"}]},"mark":{"type":"text","font":"Liberation Sans","fontWeight":"bold","fontSize":21,"baseline":"middle","dx":-31,"dy":-13},"encoding":{"x":{"field":"x","type":"quantitative"},"y":{"field":"y","type":"quantitative","scale":{"domain":[100,1600],"nice":false}},"text":{"field":"t"}}}]},
{"width":270,"height":185,"title":{"text":"Mean O⁺ density (with CF)","offset":-18},"layer":[
{"data":{"values":[{"x":0,"x2":90,"y":100,"y2":1600}]},"mark":{"type":"rect","fill":"#00007f","stroke":"#666","strokeWidth":0.5},"encoding":{"x":{"field":"x","type":"quantitative"},"x2":{"field":"x2"},"y":{"field":"y","type":"quantitative","scale":{"domain":[100,1600],"nice":false}},"y2":{"field":"y2"}}},
{"data":{"name":"E"},"transform":[{"flatten":["x","v"]},{"calculate":"datum.x+5.5","as":"x2"},{"calculate":"datum.y+58","as":"y2"}],"mark":{"type":"rect","clip":true},"encoding":{"x":{"field":"x","type":"quantitative","scale":{"domain":[0,90],"nice":false},"axis":{"title":"Solar Zenith Angle [°]","labelOverlap":false,"values":[0,10,20,30,40,50,60,70,80,90]}},"x2":{"field":"x2"},"y":{"field":"y","type":"quantitative","scale":{"domain":[100,1600],"nice":false},"axis":{"title":null,"labelOverlap":false,"format":"d","values":[200,400,600,800,1000,1200,1400,1600]}},"y2":{"field":"y2"},"fill":{"field":"v","type":"quantitative","scale":{"domain":[-1,4],"clamp":true},"legend":{"title":"(cm⁻³)","orient":"none","legendX":268,"legendY":-12,"gradientLength":185,"values":[-1,0,1,2,3,4],"labelExpr":"'10'+{'-1':'⁻¹','0':'⁰','1':'¹','2':'²','3':'³','4':'⁴','5':'⁵'}[datum.value]"}}}},
{"data":{"name":"xl"},"mark":{"type":"text","font":"Liberation Serif","fontWeight":"bold","fontSize":8.5,"fill":"#222","baseline":"top","dy":3},"encoding":{"x":{"field":"x","type":"quantitative"},"y":{"field":"y","type":"quantitative","scale":{"domain":[100,1600],"nice":false}},"text":{"field":"l"}}},
{"data":{"name":"yl"},"mark":{"type":"text","font":"Liberation Serif","fontWeight":"bold","fontSize":8.5,"fill":"#222","align":"right","baseline":"middle","dx":-3},"encoding":{"x":{"field":"x","type":"quantitative"},"y":{"field":"y","type":"quantitative","scale":{"domain":[100,1600],"nice":false}},"text":{"field":"l"}}},
{"data":{"values":[{"x":0,"y":1600,"t":"E"}]},"mark":{"type":"text","font":"Liberation Sans","fontWeight":"bold","fontSize":21,"baseline":"middle","dx":-35.2,"dy":-8},"encoding":{"x":{"field":"x","type":"quantitative"},"y":{"field":"y","type":"quantitative","scale":{"domain":[100,1600],"nice":false}},"text":{"field":"t"}}}]},
{"width":270,"height":185,"title":{"text":"Mean CO₂⁺ density (with CF)","offset":-18},"layer":[
{"data":{"values":[{"x":0,"x2":90,"y":100,"y2":1600}]},"mark":{"type":"rect","fill":"#00007f","stroke":"#666","strokeWidth":0.5},"encoding":{"x":{"field":"x","type":"quantitative"},"x2":{"field":"x2"},"y":{"field":"y","type":"quantitative","scale":{"domain":[100,1600],"nice":false}},"y2":{"field":"y2"}}},
{"data":{"name":"F"},"transform":[{"flatten":["x","v"]},{"calculate":"datum.x+5.5","as":"x2"},{"calculate":"datum.y+58","as":"y2"}],"mark":{"type":"rect","clip":true},"encoding":{"x":{"field":"x","type":"quantitative","scale":{"domain":[0,90],"nice":false},"axis":{"title":"Solar Zenith Angle [°]","labelOverlap":false,"values":[0,10,20,30,40,50,60,70,80,90]}},"x2":{"field":"x2"},"y":{"field":"y","type":"quantitative","scale":{"domain":[100,1600],"nice":false,"range":[185,5]},"axis":{"title":"Altitude [km]","labelOverlap":false,"titleAngle":90,"titlePadding":9,"format":"d","values":[200,400,600,800,1000,1200,1400,1600]}},"y2":{"field":"y2"},"fill":{"field":"v","type":"quantitative","scale":{"domain":[0,5],"clamp":true},"legend":{"title":"(cm⁻³)","orient":"none","legendX":267,"legendY":-7,"gradientLength":180,"values":[0,1,2,3,4,5],"labelExpr":"'10'+{'-1':'⁻¹','0':'⁰','1':'¹','2':'²','3':'³','4':'⁴','5':'⁵'}[datum.value]"}}}},
{"data":{"name":"xl"},"mark":{"type":"text","font":"Liberation Serif","fontWeight":"bold","fontSize":8.5,"fill":"#222","baseline":"top","dy":3},"encoding":{"x":{"field":"x","type":"quantitative"},"y":{"field":"y","type":"quantitative","scale":{"domain":[100,1600],"nice":false}},"text":{"field":"l"}}},
{"data":{"name":"yl"},"mark":{"type":"text","font":"Liberation Serif","fontWeight":"bold","fontSize":8.5,"fill":"#222","align":"right","baseline":"middle","dx":-3},"encoding":{"x":{"field":"x","type":"quantitative"},"y":{"field":"y","type":"quantitative","scale":{"domain":[100,1600],"nice":false}},"text":{"field":"l"}}},
{"data":{"values":[{"x":0,"y":1600,"t":"F"}]},"mark":{"type":"text","font":"Liberation Sans","fontWeight":"bold","fontSize":21,"baseline":"middle","dx":-38.3,"dy":-13},"encoding":{"x":{"field":"x","type":"quantitative"},"y":{"field":"y","type":"quantitative","scale":{"domain":[100,1600],"nice":false}},"text":{"field":"t"}}}]}]}
]}
